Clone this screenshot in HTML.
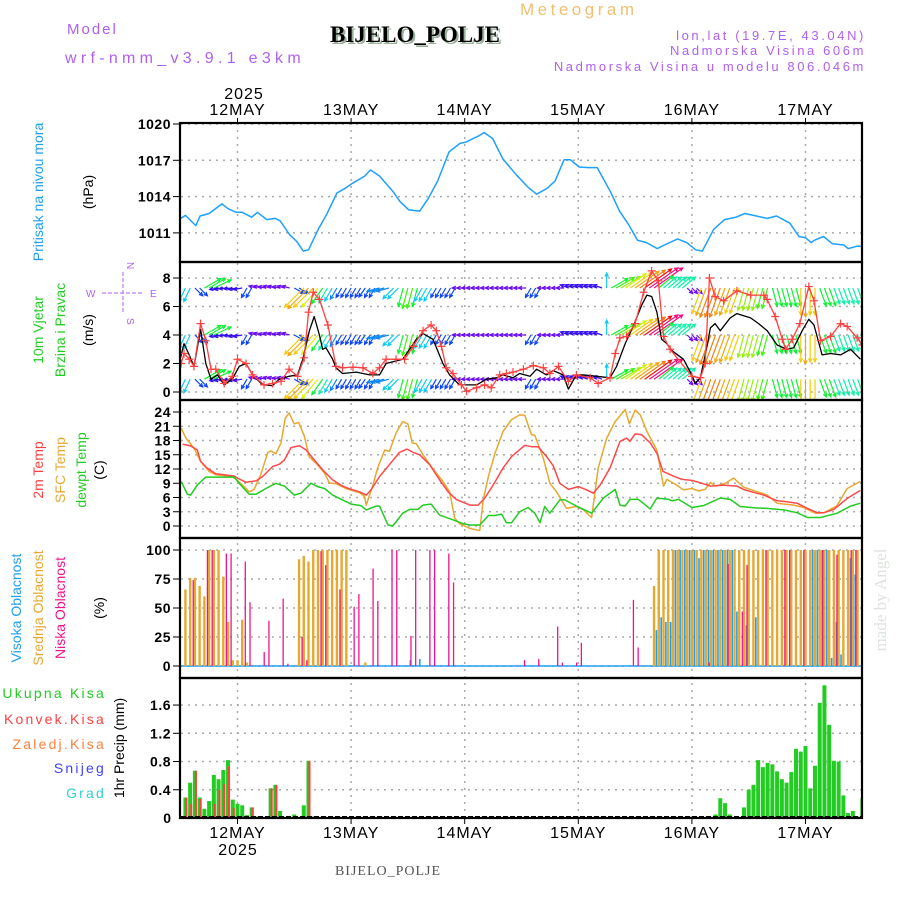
<!DOCTYPE html>
<html><head><meta charset="utf-8"><style>
html,body{margin:0;padding:0;background:#fff;}
svg{display:block;font-family:"Liberation Sans",sans-serif;}
</style></head><body>
<svg id="chart" width="900" height="900" viewBox="0 0 900 900" xmlns="http://www.w3.org/2000/svg">
<defs>
<clipPath id="cp1"><rect x="181" y="124" width="680" height="137"/></clipPath>
<clipPath id="cp2"><rect x="181" y="263" width="680" height="136"/></clipPath>
<clipPath id="cp3"><rect x="181" y="401" width="680" height="136"/></clipPath>
<clipPath id="cp4"><rect x="181" y="539" width="680" height="138"/></clipPath>
<clipPath id="cp5"><rect x="181" y="679" width="680" height="138"/></clipPath>
</defs>
<g>
<text x="67" y="34" fill="#b060f0" font-size="15" letter-spacing="2">Model</text>
<text x="65" y="63" fill="#b060f0" font-size="16" letter-spacing="4.3">wrf-nmm_v3.9.1 e3km</text>
<text x="332" y="44" fill="#9ab09a" font-family="Liberation Serif, serif" font-weight="bold" font-size="23">BIJELO_POLJE</text>
<text x="330" y="42" fill="#000" font-family="Liberation Serif, serif" font-weight="bold" font-size="23">BIJELO_POLJE</text>
<text x="520" y="15" fill="#f0c070" font-size="17" letter-spacing="3.5">Meteogram</text>
<text x="866" y="40" fill="#b060f0" font-size="13" text-anchor="end" letter-spacing="2.6">lon,lat (19.7E, 43.04N)</text>
<text x="866" y="55" fill="#b060f0" font-size="13" text-anchor="end" letter-spacing="2.6">Nadmorska Visina 606m</text>
<text x="866" y="71" fill="#b060f0" font-size="13" text-anchor="end" letter-spacing="2.6">Nadmorska Visina u modelu 806.046m</text>
</g>
<g id="grid"></g>
<g id="series"></g>
<g id="frames"></g>
<g id="labels">
<text transform="translate(43,192) rotate(-90)" fill="#1ea0f0" font-size="14" text-anchor="middle">Pritisak na nivou mora</text>
<text transform="translate(93,192) rotate(-90)" fill="#000" font-size="14" text-anchor="middle">(hPa)</text>
<text transform="translate(43,330) rotate(-90)" fill="#22cc22" font-size="14" text-anchor="middle">10m Vjetar</text>
<text transform="translate(65,330) rotate(-90)" fill="#22cc22" font-size="14" text-anchor="middle">Brzina i Pravac</text>
<text transform="translate(93,330) rotate(-90)" fill="#000" font-size="14" text-anchor="middle">(m/s)</text>
<g fill="#b060f0" stroke="#b060f0" font-size="10">
<text x="86" y="297" stroke="none">W</text><text x="150" y="297" stroke="none">E</text>
<line x1="102" y1="293" x2="144" y2="293" stroke-width="1" stroke-dasharray="4,2"/>
<line x1="123" y1="272" x2="123" y2="314" stroke-width="1" stroke-dasharray="4,2"/>
<text transform="translate(127,262) rotate(90)" stroke="none">N</text>
<text transform="translate(127,318) rotate(90)" stroke="none">S</text>
</g>
<text transform="translate(43,470) rotate(-90)" fill="#ff4040" font-size="14" text-anchor="middle">2m Temp</text>
<text transform="translate(65,470) rotate(-90)" fill="#e8a830" font-size="14" text-anchor="middle">SFC Temp</text>
<text transform="translate(86,470) rotate(-90)" fill="#22cc22" font-size="14" text-anchor="middle">dewpt Temp</text>
<text transform="translate(104,470) rotate(-90)" fill="#000" font-size="14" text-anchor="middle">(C)</text>
<text transform="translate(21,608) rotate(-90)" fill="#1ea0f0" font-size="14" text-anchor="middle">Visoka Oblacnost</text>
<text transform="translate(43,608) rotate(-90)" fill="#e8a830" font-size="14" text-anchor="middle">Srednja Oblacnost</text>
<text transform="translate(65,608) rotate(-90)" fill="#f0148c" font-size="14" text-anchor="middle">Niska Oblacnost</text>
<text transform="translate(104,608) rotate(-90)" fill="#000" font-size="14" text-anchor="middle">(%)</text>
<g font-size="14" text-anchor="end" letter-spacing="2.2">
<text x="106" y="698" fill="#22cc22">Ukupna Kisa</text>
<text x="106" y="724" fill="#ff4040">Konvek.Kisa</text>
<text x="106" y="749" fill="#ff8040">Zaledj.Kisa</text>
<text x="106" y="773" fill="#4040ff">Snijeg</text>
<text x="106" y="798" fill="#30d0d0">Grad</text>
</g>
<text transform="translate(124,748) rotate(-90)" fill="#000" font-size="14" text-anchor="middle">1hr Precip (mm)</text>
<text x="244" y="99" fill="#000" font-size="16" text-anchor="middle" letter-spacing="1">2025</text>
<text x="238" y="855" fill="#000" font-size="16" text-anchor="middle" letter-spacing="1">2025</text>
<text x="388" y="875" fill="#555" font-family="Liberation Serif, serif" font-size="14" text-anchor="middle" letter-spacing="1">BIJELO_POLJE</text>
<text transform="translate(886,600) rotate(-90)" fill="#dde4dd" font-family="Liberation Serif, serif" font-size="17" text-anchor="middle">made by Angel</text>
</g>
</svg>
<script>
// ---------- DATA ----------
const dayLabels = ["12MAY","13MAY","14MAY","15MAY","16MAY","17MAY"];
const dayHours = [0,24,48,72,96,120];
const pressTicks = [1020,1017,1014,1011];
const windTicks = [0,2,4,6,8];
const tempTicks = [0,3,6,9,12,15,18,21,24];
const cloudTicks = [0,25,50,75,100];
const precipTicks = [0,0.4,0.8,1.2,1.6];

const pressHours = [-12.4,-11,-8.8,-7.9,-6,-3.3,-2,-0.3,1,3,4.2,6.2,8,9,11,12.5,13.9,15,17.2,18.8,21,22.6,24.3,26.9,28.1,30,32.9,34.3,36.2,38.5,40.4,42.3,44.7,47,48.2,50.9,52.1,53.9,56.1,58.9,61.3,63.2,65.5,67.1,69,70.3,72.2,74.1,76,78.8,80.7,82.6,84.5,86.4,88.7,90.2,93,94.9,96.8,98.2,100.6,102.9,105.3,107.2,109.6,111.9,113.9,116.7,118.6,120,121.2,121.9,123.8,125.7,128.1,129,130.9,132.3];
const pressVals = [1012.1,1012.45,1011.6,1012.4,1012.6,1013.4,1013.0,1012.7,1012.7,1012.3,1012.7,1012.1,1012.2,1012.0,1010.85,1010.3,1009.5,1009.6,1011.4,1012.5,1014.3,1014.65,1015.1,1015.7,1016.2,1015.7,1014.4,1013.6,1012.9,1012.8,1013.9,1015.3,1017.7,1018.4,1018.5,1019.0,1019.3,1018.8,1017.1,1015.8,1014.8,1014.2,1014.7,1015.3,1017.05,1017.05,1016.45,1016.4,1016.4,1014.4,1012.8,1011.7,1010.4,1010.2,1009.7,1010.0,1010.5,1010.2,1009.6,1009.5,1011.3,1012.1,1012.3,1012.6,1012.4,1012.2,1012.4,1011.8,1010.7,1010.6,1010.2,1010.4,1010.7,1010.1,1010.0,1009.7,1009.9,1009.9];

const windHours = [-12.1,-11.3,-10.2,-9.2,-7.8,-6.7,-5.6,-4.2,-2.8,-1.1,0.35,1.8,3.2,5.3,7.4,8.8,10.9,12.7,13.8,15.2,16.2,17.3,18,18.7,20.1,20.8,22.2,25.1,27.9,30,31.4,34.9,37.8,39.2,41.3,43.4,44.8,46.9,50.5,52.6,54.7,56.1,58.2,59.6,61.8,63.2,65.3,66.7,68.8,69.9,71.6,73.1,75.9,78.7,80.1,81.9,83.6,85.4,86.5,87.5,88.6,89.6,90.7,91.8,94.2,96,96.7,97.8,99.2,99.9,100.9,102,104.1,105.5,108.4,110.1,111.9,114,116.1,117.5,119.3,120.7,121.8,123.5,125.3,127.4,129.5,131.6];
const windVals = [2.3,3.4,2.6,1.8,4.4,2.0,0.9,1.2,0.5,0.9,1.8,2.0,1.2,0.5,0.45,0.9,1.1,1.2,2.3,4.3,5.3,4.0,3.0,3.1,2.3,1.7,1.3,1.4,1.2,1.2,2.0,2.3,3.7,4.1,3.7,2.0,1.2,0.5,0.5,0.9,1.0,1.2,1.0,1.3,1.1,1.6,1.2,1.5,1.2,0.2,1.2,1.2,1.1,1.0,1.8,3.4,4.6,6.1,6.8,6.7,5.6,3.7,3.4,2.9,2.3,1.2,0.6,1.0,3.2,4.5,4.8,4.3,5.2,5.5,5.2,4.8,4.3,3.3,3.0,3.1,4.3,5.1,4.7,2.6,2.7,2.6,3.0,2.3];

const gustHours = [-11.9,-11.3,-10.2,-9.2,-7.8,-6.7,-5.6,-4.6,-2.8,-1.1,0,1.8,3.2,5.6,7.4,9.2,10.9,12.7,14.1,15,16,17.3,19.1,20.8,22.2,24.4,26.5,28.6,30,31.4,33.5,35.3,37.1,39.2,40.9,42,43.1,44.1,45.5,47.3,48.4,50.5,52.2,53.6,55.4,56.8,58.2,60.4,62.5,64.6,66,67.8,69.9,71.6,74.5,76.2,78.7,79.8,80.8,82.2,84,85.8,87.5,88.9,90,91.4,96,97.8,98.8,99.7,100.9,102.7,105.5,108.4,111.2,111.9,113.6,115.1,115.8,117.2,118.8,120.7,121.8,123.2,125.3,127.4,128.8,130.9,132];
const gustVals = [2.0,2.7,2.3,1.8,4.8,3.6,1.6,1.6,0.6,1.1,2.3,2.0,1.2,0.5,0.6,0.75,1.6,1.1,2.4,5.6,7.0,6.5,4.7,1.8,1.7,1.75,1.7,1.3,1.7,2.3,2.3,2.3,3.2,4.3,4.7,4.3,3.2,1.7,1.3,0.5,0.05,0.3,0.5,0.3,1.2,1.3,1.4,1.6,1.85,1.7,1.3,1.8,0.75,1.2,1.0,0.6,1.0,2.7,3.8,3.9,4.8,7.0,8.5,7.8,3.9,3.0,1.1,1.0,2.0,8.0,6.7,6.4,7.1,6.8,6.8,6.5,5.3,3.7,3.0,3.7,4.8,7.4,6.4,3.6,3.9,4.8,4.6,3.8,3.3];

// hourly wind arrows, hours -12 .. 132
const arrowStartHour = -12;
const arrowDir = [115,115,115,45,45,330,330,335,170,170,175,175,
 170,170,120,120,195,195,190,195,195,190,195,195,
 30,30,135,135,135,130,125,120,120,120,120,120,
 120,120,120,125,120,120,165,165,165,135,135,105,
 105,105,105,120,120,120,120,120,120,120,120,180,
 180,180,180,180,180,180,180,180,180,180,180,180,
 180,180,120,120,120,180,180,180,180,180,200,200,
 200,200,200,200,200,200,270,330,330,330,325,325,
 325,325,325,325,325,320,320,320,320,320,320,45,
 45,45,110,110,110,110,110,110,110,110,110,105,
 105,105,105,105,105,75,75,75,75,75,75,90,
 90,90,90,70,70,70,70,70,70,70,70,70,70];
const arrowSpd = [3,3,3,2,2,4,4,4,1.5,1.5,1.5,1.5,
 1.5,1.5,2,2,1.2,1.2,1.2,1.2,1.2,1.2,1.2,1.2,
 2,2,6,6.5,6,5.5,4,3.5,3,2.5,2,2,
 2,2,2,2,2,2,2.5,2.5,2.5,3,3,4,
 4.5,4.5,4,3,3,3,2,2,2,2,2,1.2,
 1.2,1.2,1.2,1.2,1.2,1.2,1.2,1.2,1.2,1.2,1.2,1.2,
 1.2,1.2,2,2,2,1.2,1.2,1.2,1.2,1.2,1.5,1.5,
 1.5,1.5,1.5,1.5,1.5,1.5,3,4,4.5,5,5.5,6,
 6.5,7,7.5,8,8,4,3.5,3.5,3.5,3.5,3.5,1.2,
 1.2,1.2,6,6.5,7,7,7,6.5,6.5,6,6,5,
 5,5,5,4.5,4.5,4,4,4,4,4,4,6,
 6.5,6,6,4,4,4,3.5,3.5,3.5,3.5,3.5,3.5,3.5];
const arrowRows = [7.3,4.0,0.9];

const tempHours = [-11.6,-10,-8.5,-7.8,-6.4,-4.6,-2.8,-0.7,0.35,1.8,3.9,5.3,7.4,8.8,9.9,11.3,13.1,14.5,15.9,18,20.1,22.2,24,25.8,27.2,28.2,30,32.1,34.2,35.8,37.1,38.5,40.6,42.7,44.5,46.2,49.1,50.8,52.2,54,56.1,57.9,60.7,62.1,63.5,65.3,66.7,68.1,69.9,72,73.8,75.2,76.6,78.7,80.8,82.2,82.9,84,85.4,87.2,88.6,89.9,92.1,93.9,96,97.8,99.9,102.7,105.5,106.9,109,111.2,114,116.1,118.2,120.4,122.5,123.9,126,128.8,131.6];
const temp2m = [17.2,16.9,16.0,13.6,12.2,11.0,10.8,10.5,9.9,9.2,9.5,10.4,12.5,13.0,13.9,16.5,16.9,16.0,14.3,11.8,9.7,8.4,7.7,7.2,6.5,7.6,10.4,12.9,15.5,16.2,15.5,15.0,12.9,9.7,7.2,5.6,4.4,4.4,5.8,8.6,12.2,14.6,17.0,16.7,16.7,14.6,12.7,9.0,7.7,8.3,7.6,6.9,8.6,12.2,17.8,18.5,17.8,19.4,19.2,17.5,15.3,11.5,10.5,9.8,9.6,9.1,8.4,8.6,8.4,7.7,7.1,6.5,5.3,5.1,4.8,3.7,2.8,2.8,3.5,5.8,7.5];

const sfcHours = [-11.9,-10.9,-9.2,-7.8,-6,-4.6,-1.1,-0.35,1.06,2.5,3.5,4.9,6.4,7.1,8.1,9.2,10.1,10.9,12,12.9,14.1,15.2,16.6,18.4,19.4,20.8,22.9,25.8,26.8,27.2,28.6,29.6,31.1,32.1,33.5,34.9,36,36.9,37.8,39.2,41.3,43.4,44.8,45.9,46.9,49.1,50.8,51.2,51.9,53,54.4,56.1,57.9,59.6,60.7,62.1,62.8,64.6,66,67.4,69.5,71.6,73.1,74.8,76.2,78,79.8,81.9,82.8,84,85.1,86.5,88.6,90,90.7,92.8,94.2,96,97.4,98.8,99.9,100.9,103.1,104.8,106.9,109,111.9,114,117.5,119.6,122.1,123.9,126.6,128.8,131.6];
const sfcVals = [20.6,18.5,16.4,13.6,11.5,10.8,10.4,9.9,8.6,7.2,7.7,10.8,15.5,15.8,15.2,17.5,22.7,23.8,21.5,21.8,19.0,14.5,13.2,11.1,9.1,8.9,7.9,7.0,6.3,4.4,8.6,12.2,16.0,15.7,19.6,22.0,21.5,17.5,17.3,15.0,12.0,9.4,7.2,1.6,0.5,-0.5,-0.9,-0.9,5.5,10.4,15.3,19.9,22.4,23.4,23.3,19.2,19.1,14.3,9.0,7.2,3.7,4.1,3.4,1.8,12.2,18.5,22.0,24.5,21.5,24.4,23.4,19.9,16.0,8.4,9.8,8.6,7.6,7.9,7.4,7.7,9.2,8.4,9.0,10.1,8.2,7.5,6.5,4.8,4.4,3.9,2.7,2.8,4.2,7.9,9.4];

const dewHours = [-11.9,-10.6,-9.9,-8.5,-6.7,-2.5,-0.7,0.7,2.5,3.9,6,8.1,9.9,12,13.4,15.5,16.9,18.4,20.1,22.2,24,26.1,27.2,29.3,30,31.8,32.8,34.9,36.4,38.1,39.2,40.9,42.7,45.5,47.6,49.1,51.2,53,54.4,55.8,56.8,57.9,59.6,61.4,62.8,63.9,64.9,66,68.1,69.2,71.6,74.8,77.3,79.8,80.8,81.9,82.9,84.7,87.2,88.6,91.1,91.8,93.2,96,98.5,102,104.1,106.2,109.4,111.9,115.4,118.2,120.4,123.2,126.7,129.5,131.6];
const dewVals = [9.4,6.7,6.5,8.6,10.3,10.3,10.3,8.6,6.7,6.7,7.9,9.0,8.4,6.5,6.9,9.0,8.3,7.9,6.5,5.5,4.6,4.3,3.4,4.2,4.2,0.2,0,2.7,3.5,3.5,4.4,4.6,2.3,1.3,0.5,0.2,0.2,2.2,2.2,2.5,0.7,0.7,3.0,3.9,2.7,0.7,4.1,2.7,5.5,5.5,4.2,2.7,5.9,7.7,4.4,4.2,5.6,5.6,3.6,5.9,5.6,5.3,5.6,3.9,4.3,5.9,5.6,4.1,3.8,3.7,3.4,2.8,1.8,1.8,2.7,4.2,4.8];

const midHours = [-11,-10,-9,-8,-7,-6,-5,-4,-3,-2,-1,0,1,2,13,14,15,16,17,18,19,20,21,22,23,27,88,89,90,91,92,93,94,95,96,97,98,99,100,101,102,103,104,105,106,107,108,109,110,111,112,113,114,115,116,117,118,119,120,121,122,123,124,125,126,127,128,129,130,131,132];
const midVals = [66,76,76,69,60,100,100,100,77,38,5,5,40,3,92,95,90,100,100,100,100,100,100,100,100,3,69,100,100,100,100,100,100,100,100,100,100,100,100,100,100,100,100,100,100,100,100,100,100,100,100,100,100,100,100,100,100,100,100,100,100,100,100,100,100,100,100,100,100,100,100];
const lowHours = [-10,-7,-6,-3,-2,1,2,5,6,9,10,13,14,17,18,21,24,25,28,29,32,33,36,37,40,41,44,45,60,63,67,68,71,72,83,84,99,103,106,107,111,115,116,119,123,126,129,130];
const lowVals = [74,100,100,97,97,90,55,12,39,58,2,25,5,99,87,66,51,62,84,56,100,100,26,100,100,100,97,72,5,6,34,3,3,20,57,16,3,88,47,87,100,100,100,100,100,96,100,100];
const highHours = [36,38,88,89,90,91,92,93,94,95,96,97,98,99,100,101,102,103,104,105,107,109,121,122,123,124,125,126,127,129,130];
const highVals = [5,6,31,42,38,38,100,100,100,100,100,93,100,100,100,100,100,100,100,47,35,42,100,100,100,100,7,38,10,93,79];

const precipHours = [-11,-10,-9,-8,-7,-6,-5,-4,-3,-2,-1,0,1,2,3,4,7,8,9,11,12,13,14,15,16,101,102,103,104,107,108,109,110,111,112,113,114,115,116,117,118,119,120,121,122,123,124,125,126,127,128,129,130,131,132];
const precipTotal = [0.29,0.50,0.67,0.29,0.13,0.24,0.61,0.55,0.68,0.82,0.26,0.20,0.18,0.04,0.15,0.02,0.42,0.47,0.10,0.01,0.05,0.01,0.18,0.81,0.02,0.05,0.28,0.21,0.05,0.15,0.40,0.47,0.82,0.72,0.78,0.76,0.66,0.55,0.50,0.65,0.98,0.94,1.02,0.42,0.74,1.63,1.88,1.32,0.81,0.80,0.32,0.07,0.10,0.02,0.28];
const precipConv = [0.29,0.2,0.67,0.27,0,0.02,0.2,0.4,0.48,0.73,0.14,0,0,0.03,0.15,0,0.42,0.47,0,0.01,0.02,0.01,0.02,0.81,0.02,0,0,0,0,0,0,0,0,0,0,0,0,0,0,0,0,0,0,0,0,0,0,0,0,0,0,0,0,0,0];

// ---------- SCALES ----------
const X0 = 181, X1 = 861;
const xS = h => 237.5 + h * 113.6 / 24;
const yP = p => 124 + (1020 - p) * 12.1;
const yW = v => 392 - v * 14.25;
const yT = t => 526 - t * 4.75;
const yC = c => 666 - c * 1.16;
const yR = v => 818 - v * 70.6;
const panels = [[123,262],[262,400],[400,538],[538,678],[678,818]];

const NS = "http://www.w3.org/2000/svg";
function mk(tag, attrs, parent) {
  const e = document.createElementNS(NS, tag);
  for (const k in attrs) e.setAttribute(k, attrs[k]);
  parent.appendChild(e);
  return e;
}
const grid = document.getElementById('grid');
const series = document.getElementById('series');
const frames = document.getElementById('frames');
const labels = document.getElementById('labels');

dayHours.forEach((h, i) => {
  const x = xS(h);
  const l = mk('line', {x1:x, y1:123, x2:x, y2:818, stroke:'#aaa', 'stroke-width':1.5, 'stroke-dasharray':'2,5'}, grid);
  
  
  const t1 = mk('text', {x:x, y:115, 'font-size':16, 'text-anchor':'middle', fill:'#000', 'letter-spacing':'1'}, labels);
  t1.textContent = dayLabels[i];
  
  
  const t2 = mk('text', {x:x, y:838, 'font-size':16, 'text-anchor':'middle', fill:'#000', 'letter-spacing':'1'}, labels);
  t2.textContent = dayLabels[i];
  
  
  mk('line', {x1:x, y1:118, x2:x, y2:123, stroke:'#000'}, frames);
  mk('line', {x1:x, y1:818, x2:x, y2:824, stroke:'#000'}, frames);
});

function yAxis(ticks, fn, fmt, name) {
  ticks.forEach(v => {
    const y = fn(v);
    const g = mk('line', {x1:X0, y1:y, x2:X1, y2:y, stroke:'#aaa', 'stroke-width':1.5, 'stroke-dasharray':'2,5'}, grid);
    
    
    mk('line', {x1:173, y1:y, x2:180, y2:y, stroke:'#000'}, frames);
    const t = mk('text', {x:171, y:y+5, 'font-size':14, 'text-anchor':'end', fill:'#000', 'font-weight':'bold', 'letter-spacing':'0.5'}, labels);
    t.textContent = fmt(v);
    
    
  });
}
yAxis(pressTicks, yP, v => v, 'pressure');
yAxis(windTicks, yW, v => v, 'wind');
yAxis(tempTicks, yT, v => v, 'temp');
yAxis(cloudTicks, yC, v => v, 'cloud');
yAxis(precipTicks.slice(1), yR, v => v.toFixed(1), 'precip');
{ const t = mk('text', {x:171, y:yR(0)+5, 'font-size':14, 'text-anchor':'end', fill:'#000', 'font-weight':'bold'}, labels);
  t.textContent = '0';
  
   }

function line(hours, vals, yfn, color, clip, name, w) {
  const d = hours.map((h, i) => (i ? 'L' : 'M') + xS(h).toFixed(1) + ',' + yfn(vals[i]).toFixed(1)).join('');
  const p = mk('path', {d:d, fill:'none', stroke:color, 'stroke-width':w || 1.5, 'stroke-linejoin':'round', 'clip-path':'url(#' + clip + ')'}, series);
  
  
  return p;
}

line(pressHours, pressVals, yP, '#1ea0ff', 'cp1', 'pressure-line');

const spdStops = [1, 2, 3, 4, 5, 6, 7, 8];
const hueStops = [275, 225, 190, 130, 85, 50, 30, -30];
function spdColor(s) {
  if (s <= spdStops[0]) return 'hsl(275,85%,55%)';
  for (let i = 1; i < spdStops.length; i++) {
    if (s <= spdStops[i]) {
      const f = (s - spdStops[i-1]) / (spdStops[i] - spdStops[i-1]);
      let hu = hueStops[i-1] + f * (hueStops[i] - hueStops[i-1]);
      if (hu < 0) hu += 360;
      return 'hsl(' + hu.toFixed(0) + ',90%,50%)';
    }
  }
  return 'hsl(330,90%,55%)';
}
const arrowG = mk('g', {'clip-path':'url(#cp2)'}, series);


arrowRows.forEach(lv => {
  const y0 = yW(lv);
  arrowDir.forEach((dir, i) => {
    const s = arrowSpd[i];
    const x0 = xS(arrowStartHour + i);
    const a = dir * Math.PI / 180;
    const len = 3 + s * 4.0;
    const x1 = x0 + Math.cos(a) * len, y1 = y0 + Math.sin(a) * len;
    const c = spdColor(s);
    const hl = 4;
    const a1 = a + Math.PI - 0.45, a2 = a + Math.PI + 0.45;
    const d = 'M' + x0.toFixed(1) + ',' + y0.toFixed(1) + 'L' + x1.toFixed(1) + ',' + y1.toFixed(1) +
      'M' + (x1 + Math.cos(a1) * hl).toFixed(1) + ',' + (y1 + Math.sin(a1) * hl).toFixed(1) + 'L' + x1.toFixed(1) + ',' + y1.toFixed(1) +
      'L' + (x1 + Math.cos(a2) * hl).toFixed(1) + ',' + (y1 + Math.sin(a2) * hl).toFixed(1);
    const p = mk('path', {d:d, fill:'none', stroke:c, 'stroke-width':1.2}, arrowG);
    
    
  });
});
line(windHours, windVals, yW, '#000', 'cp2', 'wind-speed-line', 1.3);
line(gustHours, gustVals, yW, '#ff4040', 'cp2', 'wind-gust-line', 1.3);
gustHours.forEach((h, i) => {
  const x = xS(h), y = yW(gustVals[i]);
  const p = mk('path', {d:'M' + (x-4) + ',' + y + 'h8M' + x + ',' + (y-4) + 'v8', stroke:'#ff4040', 'stroke-width':1.2, 'clip-path':'url(#cp2)'}, series);
  
  
});

line(sfcHours, sfcVals, yT, '#e8a830', 'cp3', 'sfc-temp-line');
line(tempHours, temp2m, yT, '#ff4848', 'cp3', 'temp-2m-line');
line(dewHours, dewVals, yT, '#22cc22', 'cp3', 'dewpoint-line');

const cG = mk('g', {'clip-path':'url(#cp4)'}, series);


mk('line', {x1:X0, y1:yC(0), x2:X1, y2:yC(0), stroke:'#1ea0f0', 'stroke-width':1.5}, cG);
midHours.forEach((h, i) => {
  const y = yC(midVals[i]);
  const r = mk('rect', {x:xS(h) - 1.2, y:y, width:2.4, height:yC(0) - y, fill:'#e8a830'}, cG);
  
  
});
highHours.forEach((h, i) => {
  const y = yC(highVals[i]);
  const r = mk('rect', {x:xS(h) + 1.6, y:y, width:1.6, height:yC(0) - y, fill:'#1ea0f0'}, cG);
  
  
});
lowHours.forEach((h, i) => {
  const y = yC(lowVals[i]);
  const r = mk('rect', {x:xS(h) + 2.4, y:y, width:1.3, height:yC(0) - y, fill:'#f0148c'}, cG);
  
  
});

const pG = mk('g', {'clip-path':'url(#cp5)'}, series);


precipHours.forEach((h, i) => {
  const x = xS(h);
  const y = yR(precipTotal[i]);
  const r = mk('rect', {x:x - 2, y:y, width:4, height:yR(0) - y, fill:'#22cc22'}, pG);
  
  
  if (precipConv[i] > 0) {
    const yc = yR(precipConv[i]);
    const r2 = mk('rect', {x:x, y:yc, width:2, height:yR(0) - yc, fill:'#ff4040'}, pG);
    
    
  }
});
mk('line', {x1:X0, y1:yR(0)-1, x2:X1, y2:yR(0)-1, stroke:'#000', 'stroke-width':2, 'stroke-dasharray':'5,2'}, pG);

panels.forEach((p, i) => {
  const r = mk('rect', {x:180, y:p[0], width:682, height:p[1] - p[0], fill:'none', stroke:'#000', 'stroke-width':2.2}, frames);
  
  
});
</script>
</body></html>
